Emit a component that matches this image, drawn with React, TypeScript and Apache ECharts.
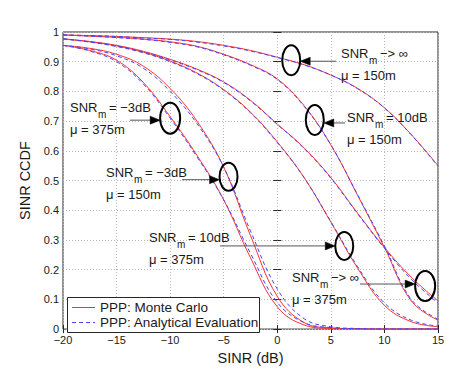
import React, { useEffect, useRef } from 'react';
import * as echarts from 'echarts';

// SINR grid (dB)
const sinr = [-20, -17.5, -15, -12.5, -10, -7.5, -5, -2.5, 0, 2.5, 5, 7.5, 10, 12.5, 15];

// Monte Carlo (red solid)
const mcInf150 = [0.99, 0.988, 0.985, 0.981, 0.976, 0.968, 0.955, 0.938, 0.915, 0.89, 0.855, 0.81, 0.745, 0.655, 0.55];
const mc10dB150 = [0.99, 0.986, 0.982, 0.976, 0.967, 0.952, 0.925, 0.89, 0.842, 0.752, 0.62, 0.45, 0.275, 0.095, 0.03];
const mcInf375 = [0.977, 0.968, 0.955, 0.935, 0.908, 0.875, 0.832, 0.77, 0.69, 0.61, 0.51, 0.39, 0.275, 0.175, 0.095];
const mc10dB375 = [0.977, 0.967, 0.953, 0.932, 0.902, 0.862, 0.806, 0.73, 0.63, 0.51, 0.36, 0.205, 0.08, 0.025, 0.008];
const mcM3dB150 = [0.955, 0.945, 0.925, 0.885, 0.81, 0.7, 0.545, 0.315, 0.11, 0.022, 0.004, 0.001, 0, 0, 0];
const mcM3dB375 = [0.955, 0.938, 0.905, 0.83, 0.715, 0.585, 0.435, 0.24, 0.075, 0.014, 0.002, 0.0005, 0, 0, 0];

// Analytical evaluation (blue dashed)
const anInf150 = [0.99, 0.988, 0.985, 0.98, 0.975, 0.966, 0.953, 0.936, 0.914, 0.889, 0.855, 0.809, 0.744, 0.654, 0.548];
const an10dB150 = [0.99, 0.986, 0.981, 0.975, 0.965, 0.95, 0.923, 0.888, 0.84, 0.75, 0.62, 0.452, 0.28, 0.1, 0.033];
const anInf375 = [0.977, 0.967, 0.953, 0.933, 0.906, 0.873, 0.83, 0.768, 0.689, 0.608, 0.508, 0.388, 0.272, 0.168, 0.088];
const an10dB375 = [0.977, 0.966, 0.951, 0.93, 0.9, 0.86, 0.804, 0.728, 0.628, 0.51, 0.362, 0.21, 0.088, 0.03, 0.01];
const anM3dB150 = [0.955, 0.943, 0.92, 0.878, 0.8, 0.692, 0.545, 0.33, 0.135, 0.035, 0.008, 0.002, 0, 0, 0];
const anM3dB375 = [0.955, 0.936, 0.9, 0.825, 0.71, 0.58, 0.435, 0.255, 0.09, 0.022, 0.005, 0.001, 0, 0, 0];

const xTicks = [-20, -15, -10, -5, 0, 5, 10, 15];
const yTicks = [0, 0.1, 0.2, 0.3, 0.4, 0.5, 0.6, 0.7, 0.8, 0.9, 1];

const MC_NAME = 'PPP: Monte Carlo';
const AN_NAME = 'PPP: Analytical Evaluation';

const mcSeries = [mcInf150, mc10dB150, mcInf375, mc10dB375, mcM3dB150, mcM3dB375];
const anSeries = [anInf150, an10dB150, anInf375, an10dB375, anM3dB150, anM3dB375];

// Annotations: ellipse anchored in data coordinates
const annotations = [
  { sinr: 1.3, ccdf: 0.905, rx: 9, ry: 15, textX: 341, textY: 53, rel: '−> ∞', mu: 'μ = 150m', arrowFrom: 336, arrowDy: 1 },
  { sinr: 3.5, ccdf: 0.704, rx: 9, ry: 15, textX: 347, textY: 117, rel: '= 10dB', mu: 'μ = 150m', arrowFrom: 345, arrowDy: 3 },
  { sinr: -10, ccdf: 0.71, rx: 10, ry: 15.5, textX: 70, textY: 107, rel: '= −3dB', mu: 'μ = 375m', arrowFrom: 130, arrowDy: 2 },
  { sinr: -4.55, ccdf: 0.513, rx: 9, ry: 14, textX: 106, textY: 172, rel: '= −3dB', mu: 'μ = 150m', arrowFrom: 182, arrowDy: 3 },
  { sinr: 6.25, ccdf: 0.28, rx: 9, ry: 14, textX: 149, textY: 237, rel: '= 10dB', mu: 'μ = 375m', arrowFrom: 220, arrowDy: 0 },
  { sinr: 13.8, ccdf: 0.145, rx: 10, ry: 15, textX: 292, textY: 277, rel: '−> ∞', mu: 'μ = 375m', arrowFrom: 360, arrowDy: -2 },
];

const FONT = '"Liberation Sans", Arial, Helvetica, sans-serif';
const RED = '#ff3030';
const BLUE = '#4646ff';

export default function App() {
  const ref = useRef<HTMLDivElement>(null);

  useEffect(() => {
    if (!ref.current) return;
    const chart = echarts.init(ref.current, undefined, { renderer: 'svg' });

    const axisColor = '#262626';
    const gridLine = { show: true, lineStyle: { color: '#b8b8b8', type: [1, 2] as any, width: 1 } };

    const series: any[] = [];
    mcSeries.forEach((arr) => {
      series.push({
        name: MC_NAME,
        type: 'line',
        data: sinr.map((x, i) => [x, arr[i]]),
        smooth: 0.4,
        symbol: 'none',
        lineStyle: { color: RED, width: 1 },
        itemStyle: { color: RED },
        z: 2,
      });
    });
    anSeries.forEach((arr) => {
      series.push({
        name: AN_NAME,
        type: 'line',
        data: sinr.map((x, i) => [x, arr[i]]),
        smooth: 0.4,
        symbol: 'none',
        lineStyle: { color: BLUE, width: 1, type: [4, 3] },
        itemStyle: { color: BLUE },
        z: 3,
      });
    });

    const xAxisBase = {
      type: 'value',
      min: xTicks[0],
      max: xTicks[xTicks.length - 1],
      interval: 5,
      axisLine: { show: false },
      axisTick: { show: true, inside: true, length: 4, lineStyle: { color: axisColor } },
    };
    const yAxisBase = {
      type: 'value',
      min: yTicks[0],
      max: yTicks[yTicks.length - 1],
      interval: 0.1,
      axisLine: { show: false },
      axisTick: { show: true, inside: true, length: 4, lineStyle: { color: axisColor } },
    };

    chart.setOption({
      animation: false,
      backgroundColor: '#ffffff',
      textStyle: { fontFamily: FONT },
      grid: {
        left: 63,
        right: 25,
        top: 32,
        bottom: 34,
        show: true,
        borderColor: axisColor,
        borderWidth: 1,
        backgroundColor: 'transparent',
      },
      xAxis: [
        {
          ...xAxisBase,
          position: 'bottom',
          name: 'SINR (dB)',
          nameLocation: 'middle',
          nameGap: 20,
          nameTextStyle: { fontFamily: FONT, fontSize: 14.5, color: '#1a1a1a' },
          axisLabel: {
            show: true,
            margin: 5,
            fontFamily: FONT,
            fontSize: 11,
            color: '#1a1a1a',
            formatter: (v: number) => (v < 0 ? '−' + Math.abs(v) : String(v)),
          },
          splitLine: gridLine,
        },
        {
          ...xAxisBase,
          position: 'top',
          axisLabel: { show: false },
          splitLine: { show: false },
        },
      ],
      yAxis: [
        {
          ...yAxisBase,
          position: 'left',
          name: 'SINR CCDF',
          nameLocation: 'middle',
          nameGap: 24,
          nameRotate: 90,
          nameTextStyle: { fontFamily: FONT, fontSize: 14.5, color: '#1a1a1a' },
          axisLabel: {
            show: true,
            margin: 4,
            fontFamily: FONT,
            fontSize: 11,
            color: '#1a1a1a',
            formatter: (v: number) => String(Math.round(v * 10) / 10),
          },
          splitLine: gridLine,
        },
        {
          ...yAxisBase,
          position: 'right',
          axisLabel: { show: false },
          splitLine: { show: false },
        },
      ],
      series,
    });

    // Annotations
    const graphics: any[] = [];
    const textStyle = (text: string, size = 13) => ({
      text,
      font: `${size}px ${FONT}`,
      fill: '#1a1a1a',
      verticalAlign: 'middle',
      align: 'left',
    });
    annotations.forEach((a) => {
      const p = chart.convertToPixel({ gridIndex: 0 }, [a.sinr, a.ccdf]) as number[];
      const cx = p[0];
      const cy = p[1];
      graphics.push({
        type: 'ellipse',
        shape: { cx, cy, rx: a.rx, ry: a.ry },
        style: { fill: 'none', stroke: '#000', lineWidth: 2 },
        z: 100,
      });
      const ay = cy + a.arrowDy;
      const fromRight = a.arrowFrom > cx;
      const tip = fromRight ? cx + a.rx : cx - a.rx;
      const headLen = 10;
      const base = fromRight ? tip + headLen : tip - headLen;
      graphics.push({
        type: 'line',
        shape: { x1: a.arrowFrom, y1: ay, x2: base, y2: ay },
        style: { stroke: '#555', lineWidth: 1 },
        z: 100,
      });
      graphics.push({
        type: 'polygon',
        shape: { points: [[tip, ay], [base, ay - 4], [base, ay + 4]] },
        style: { fill: '#000', stroke: '#000', lineWidth: 0.5 },
        z: 100,
      });
      graphics.push({ type: 'text', x: a.textX, y: a.textY, style: textStyle('SNR'), z: 100 });
      graphics.push({ type: 'text', x: a.textX + 28, y: a.textY + 7, style: textStyle('m', 10), z: 100 });
      graphics.push({ type: 'text', x: a.textX + 39, y: a.textY, style: textStyle(a.rel), z: 100 });
      graphics.push({ type: 'text', x: a.textX, y: a.textY + 22, style: textStyle(a.mu), z: 100 });
    });

    // Legend box (drawn as graphics so the icons are plain line samples)
    const lgX = 67;
    const lgY = 297;
    graphics.push({
      type: 'rect',
      shape: { x: lgX + 0.5, y: lgY + 0.5, width: 192, height: 35 },
      style: { fill: '#ffffff', stroke: axisColor, lineWidth: 1 },
      z: 110,
    });
    graphics.push({
      type: 'line',
      shape: { x1: lgX + 5, y1: lgY + 10.5, x2: lgX + 28, y2: lgY + 10.5 },
      style: { stroke: RED, lineWidth: 1 },
      z: 111,
    });
    graphics.push({
      type: 'line',
      shape: { x1: lgX + 5, y1: lgY + 25.5, x2: lgX + 28, y2: lgY + 25.5 },
      style: { stroke: BLUE, lineWidth: 1, lineDash: [4, 3] },
      z: 111,
    });
    graphics.push({ type: 'text', x: lgX + 33, y: lgY + 10.5, style: textStyle(MC_NAME, 13.5), z: 111 });
    graphics.push({ type: 'text', x: lgX + 33, y: lgY + 25.5, style: textStyle(AN_NAME, 13.5), z: 111 });

    chart.setOption({ graphic: graphics });

    return () => {
      chart.dispose();
    };
  }, []);

  return (
    <div
      ref={ref}
      style={{ position: 'absolute', left: 0, top: 0, width: 463, height: 370, background: '#ffffff' }}
    />
  );
}
